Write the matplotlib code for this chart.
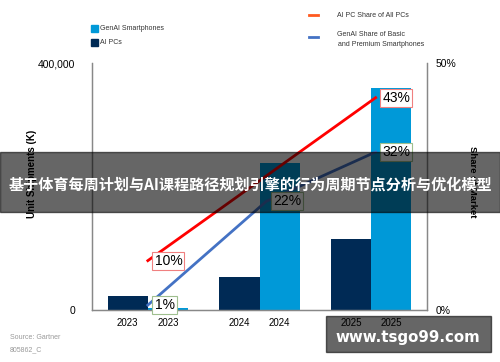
import matplotlib
matplotlib.use("Agg")
import matplotlib.pyplot as plt
from matplotlib.patches import Rectangle
from matplotlib.lines import Line2D

# ─────────────────────────────────────────────
# Donnees
# ─────────────────────────────────────────────
years = ["2023", "2024", "2025"]
ai_pcs = [23000, 54000, 115000]
genai_phones = [3000, 238000, 360000]

pc_share_years = ["2023", "2025"]
pc_share = [10, 43]
phone_share = [1, 22, 32]

title_cn = "基于体育每周计划与AI课程路径规划引擎的行为周期节点分析与优化模型"

NAVY = "#002a55"
BLUE = "#0099d8"
RED = "#ff0000"
LINE_BLUE = "#4472c4"

plt.rcParams["font.family"] = ["Liberation Sans", "DejaVu Sans"]

fig = plt.figure(figsize=(5, 3.62), dpi=100)
ax = fig.add_axes([0.184, 0.1436, 0.67, 0.682])
ax2 = ax.twinx()

idx = range(len(years))
w = 0.36
ax.bar([i - w / 2 for i in idx], ai_pcs, width=w, color=NAVY, zorder=2)
ax.bar([i + w / 2 for i in idx], genai_phones, width=w, color=BLUE, zorder=2)

ax.set_xlim(-0.5, 2.5)
ax.set_ylim(0, 400000)
ax.set_yticks([0, 400000])
ax.set_yticklabels(["0", "400,000"], fontsize=7.5)
ax.set_xticks([i + d for i in idx for d in (-w / 2, w / 2)])
ax.set_xticklabels([y for y in years for _ in range(2)], fontsize=7)
ax.tick_params(axis="y", length=0, pad=12)
ax.tick_params(axis="x", length=0, pad=6)
ax.set_ylabel("Unit Shipments (K)", fontsize=7, fontweight="bold")
ax.yaxis.set_label_coords(-0.165, 0.55)

for a in (ax, ax2):
    a.spines["top"].set_visible(False)
    for s in ("left", "right", "bottom"):
        a.spines[s].set_color("#888888")
        a.spines[s].set_linewidth(0.9)

# lignes de part de marche
pos = {"2023": 0.0, "2024": 1.06, "2025": 2.04}
ax2.plot([pos[y] for y in pc_share_years], pc_share, color=RED, lw=2, zorder=3)
ax2.plot([pos[y] for y in years], phone_share, color=LINE_BLUE, lw=2, zorder=3)
ax2.set_ylim(0, 50)
ax2.set_yticks([0, 50])
ax2.set_yticklabels(["0%", "50%"], fontsize=7.5)
ax2.tick_params(length=0, pad=6)
ax2.set_ylabel("Share of Market", fontsize=6.8, fontweight="bold", rotation=-90)
ax2.yaxis.set_label_coords(1.15, 0.52)

for y, v in zip(pc_share_years, pc_share):
    ax2.text(pos[y] + 0.06, v, f"{v}%", fontsize=10, va="center", ha="left",
             zorder=5, bbox=dict(boxstyle="square,pad=0.15", fc="white",
                                 ec="#f08080", lw=0.8))
for y, v in zip(years, phone_share):
    ax2.text(pos[y] + 0.06, v, f"{v}%", fontsize=10, va="center", ha="left",
             zorder=5, bbox=dict(boxstyle="square,pad=0.15", fc="white",
                                 ec="#9fbf8f", lw=0.8))

# legendes
fig.patches.append(Rectangle((0.182, 0.912), 0.013, 0.018, color=BLUE,
                             transform=fig.transFigure))
fig.patches.append(Rectangle((0.182, 0.873), 0.013, 0.018, color=NAVY,
                             transform=fig.transFigure))
fig.text(0.2, 0.921, "GenAI Smartphones", fontsize=5, va="center", color="#333333")
fig.text(0.2, 0.882, "AI PCs", fontsize=5, va="center", color="#333333")

fig.lines.append(Line2D([0.618, 0.636], [0.958, 0.958], color="#ff5a1f", lw=2,
                        transform=fig.transFigure))
fig.lines.append(Line2D([0.618, 0.636], [0.898, 0.898], color=LINE_BLUE, lw=2,
                        transform=fig.transFigure))
fig.text(0.674, 0.958, "AI PC Share of All PCs", fontsize=5, va="center", color="#333333")
fig.text(0.674, 0.905, "GenAI Share of Basic", fontsize=5, va="center", color="#333333")
fig.text(0.677, 0.877, "and Premium Smartphones", fontsize=5, va="center", color="#333333")

fig.text(0.02, 0.068, "Source: Gartner", fontsize=5, color="#999999", va="center")
fig.text(0.02, 0.035, "805862_C", fontsize=5, color="#999999", va="center")

# bandeau et filigrane
fig.patches.append(Rectangle((0.0, 0.414), 1.0, 0.166, color="black", alpha=0.6,
                             transform=fig.transFigure, zorder=10))
fig.text(0.5, 0.49, title_cn, fontsize=10.9, fontweight="bold", color="white",
         ha="center", va="center", zorder=11,
         family=["Noto Sans CJK SC", "DejaVu Sans"])
fig.patches.append(Rectangle((0.652, 0.028), 0.33, 0.1, color="black", alpha=0.6,
                             transform=fig.transFigure, zorder=10))
fig.text(0.815, 0.069, "www.tsgo99.com", fontsize=10.8, fontweight="bold",
         color="white", ha="center", va="center", zorder=11,
         family=["DejaVu Sans"])

fig.savefig("out.png", dpi=100)
